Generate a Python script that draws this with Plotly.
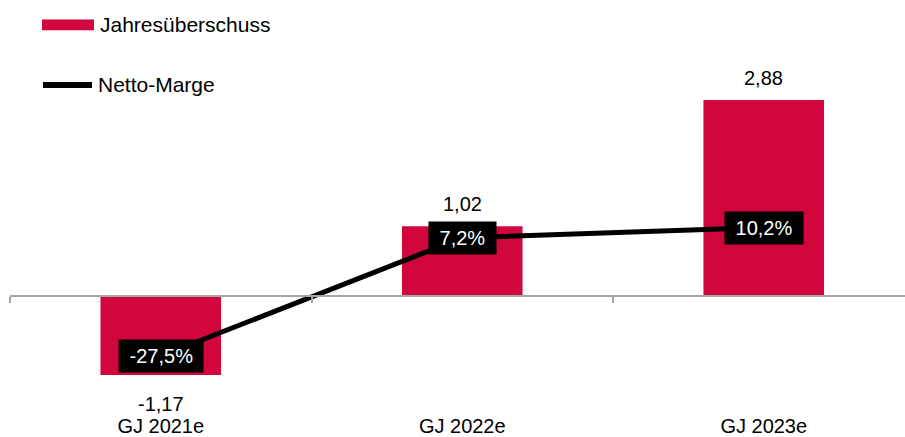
import plotly.graph_objects as go

# Data
categories = ["GJ 2021e", "GJ 2022e", "GJ 2023e"]
jahresueberschuss = [-1.17, 1.02, 2.88]
netto_marge = [-27.5, 7.2, 10.2]

RED = "#D0063D"
GRAY = "#A6A6A6"
FONT = "Liberation Sans, Arial, sans-serif"
FS = 20


def de(v, nd):
    return f"{v:.{nd}f}".replace(".", ",")


# Axis ranges
y_range = [-1.715, 3.718]
y2_range = [-43.94, 64.4]
x_range = [-0.5, 2.4685]
zero_pos = (0 - y_range[0]) / (y_range[1] - y_range[0])

fig = go.Figure()

fig.add_trace(go.Bar(
    x=categories, y=jahresueberschuss, name="Jahresüberschuss",
    marker=dict(color=RED, line=dict(width=0)), width=0.4,
    showlegend=False, hoverinfo="skip",
))

fig.add_trace(go.Scatter(
    x=categories, y=netto_marge, name="Netto-Marge", yaxis="y2",
    mode="lines", line=dict(color="black", width=5),
    showlegend=False, hoverinfo="skip",
))

# helper trace so the zero-line axis with boundary ticks is drawn
fig.add_trace(go.Scatter(
    x=[x_range[0]], y=[0], xaxis="x2", mode="markers",
    marker=dict(opacity=0), showlegend=False, hoverinfo="skip",
))

annotations = []
# bar value labels
for c, v in zip(categories, jahresueberschuss):
    annotations.append(dict(
        x=c, y=v, xref="x", yref="y", text=de(v, 2), showarrow=False,
        xanchor="center", yanchor="middle", yshift=22 if v >= 0 else -29,
        font=dict(family=FONT, size=FS, color="black"),
    ))
# margin labels in black boxes
for c, v in zip(categories, netto_marge):
    annotations.append(dict(
        x=c, y=v, xref="x", yref="y2",
        text="\u00a0" + de(v, 1) + "%\u00a0", showarrow=False,
        xanchor="center", yanchor="middle", bgcolor="black", borderpad=5,
        font=dict(family=FONT, size=FS, color="white"),
    ))

# legend
W, H = 905, 437
L, R, T, B = 10, 0, 43, 17
pw, ph = W - L - R, H - T - B


def px(x):
    return (x - L) / pw


def py(y):
    return (H - B - y) / ph


shapes = [
    dict(type="rect", xref="paper", yref="paper",
         x0=px(42), x1=px(94), y0=py(30), y1=py(19),
         fillcolor=RED, line=dict(width=0)),
    dict(type="line", xref="paper", yref="paper",
         x0=px(43), x1=px(92), y0=py(86), y1=py(86),
         line=dict(color="black", width=6)),
]
annotations += [
    dict(x=px(98), y=py(24), xref="paper", yref="paper", text="Jahresüberschuss",
         showarrow=False, xanchor="left", yanchor="middle",
         font=dict(family=FONT, size=21, color="black")),
    dict(x=px(96), y=py(85), xref="paper", yref="paper", text="Netto-Marge",
         showarrow=False, xanchor="left", yanchor="middle",
         font=dict(family=FONT, size=21, color="black")),
]

fig.update_layout(
    width=W, height=H,
    margin=dict(l=L, r=R, t=T, b=B, pad=0),
    paper_bgcolor="white", plot_bgcolor="white",
    font=dict(family=FONT, size=FS, color="black"),
    xaxis=dict(type="category", range=x_range, showline=False, showgrid=False,
               zeroline=False, ticks="", tickfont=dict(size=FS, color="black")),
    xaxis2=dict(overlaying="x", anchor="free", position=zero_pos, range=x_range,
                showline=True, linecolor=GRAY, linewidth=2, showgrid=False,
                zeroline=False, ticks="outside", ticklen=6, tickwidth=1.5,
                tickcolor=GRAY, tickvals=[-0.5, 0.5, 1.5, 2.5],
                showticklabels=False),
    yaxis=dict(range=y_range, visible=False, showgrid=False, zeroline=False),
    yaxis2=dict(range=y2_range, overlaying="y", visible=False,
                showgrid=False, zeroline=False),
    annotations=annotations,
    shapes=shapes,
    showlegend=False,
)

fig.write_html("out.html")
